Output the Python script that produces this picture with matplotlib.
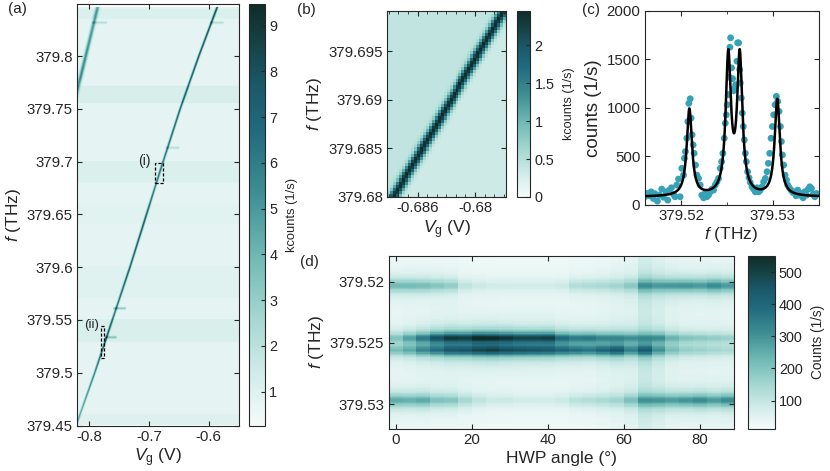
import numpy as np
import matplotlib.pyplot as plt
from matplotlib.colors import LinearSegmentedColormap
from matplotlib.patches import Rectangle
from matplotlib.ticker import FixedLocator

# ------------------------------------------------------------
# Daten
# ------------------------------------------------------------
# (a) Hintergrund-Streifen und Linien
bg_a = 0.75
band_lo = [379.450, 379.528, 379.570, 379.640, 379.680, 379.755, 379.835]
band_hi = [379.460, 379.550, 379.600, 379.660, 379.700, 379.772, 379.845]
band_lev = [1.00, 1.15, 0.95, 0.90, 1.10, 1.20, 1.10]

line_f = [379.450, 379.500, 379.600, 379.690, 379.750, 379.800, 379.850]
line_v = [-0.8210, -0.7900, -0.7315, -0.6820, -0.6480, -0.6170, -0.5840]
amp_f = [379.45, 379.50, 379.53, 379.56, 379.60, 379.64, 379.68, 379.72, 379.76, 379.80, 379.85]
amp_v = [3.5, 5.5, 7.5, 6.0, 7.0, 7.5, 5.5, 6.5, 7.0, 7.5, 8.0]

sec_f = [379.755, 379.780, 379.850]
sec_v = [-0.8250, -0.8140, -0.7840]
sec_amp = [3.0, 5.0, 4.0]

blip_f = [379.5604, 379.5329, 379.7128, 379.8316, 379.8316]
blip_v0 = [-0.7597, -0.7736, -0.6720, -0.5987, -0.7950]
blip_v1 = [-0.7386, -0.7538, -0.6496, -0.5760, -0.7700]
blip_amp = [2.5, 2.5, 1.5, 1.5, 1.5]

# (b) Ausschnitt (i)
b_vlim = [-0.68918, -0.67676]
b_flim = [379.6800, 379.6991]
b_line_v = [-0.6885, -0.67705]
b_line_f = [379.6800, 379.6990]
b_amp = 2.1
b_bg_left = 0.42
b_bg_right = 0.32

# (c) Spektrum (ii)
c_f = [379.51606, 379.51624, 379.51650, 379.51672, 379.51697, 379.51715, 379.51741, 379.51763,
       379.51788, 379.51807, 379.51836, 379.51854, 379.51872, 379.51894, 379.51916, 379.51934,
       379.51953, 379.51971, 379.51989, 379.52007, 379.52026, 379.52036, 379.52047, 379.52062,
       379.52073, 379.52084, 379.52099, 379.52109, 379.52120, 379.52131, 379.52142, 379.52157,
       379.52172, 379.52190, 379.52208, 379.52226, 379.52245, 379.52263, 379.52281, 379.52299,
       379.52318, 379.52336, 379.52354, 379.52372, 379.52391, 379.52409, 379.52427, 379.52442,
       379.52456, 379.52471, 379.52482, 379.52493, 379.52504, 379.52515, 379.52526, 379.52533,
       379.52540, 379.52551, 379.52562, 379.52573, 379.52584, 379.52595, 379.52609, 379.52617,
       379.52628, 379.52639, 379.52646, 379.52657, 379.52668, 379.52679, 379.52690, 379.52701,
       379.52712, 379.52726, 379.52741, 379.52755, 379.52774, 379.52792, 379.52810, 379.52828,
       379.52847, 379.52865, 379.52883, 379.52901, 379.52920, 379.52938, 379.52953, 379.52967,
       379.52982, 379.52996, 379.53011, 379.53026, 379.53040, 379.53055, 379.53069, 379.53084,
       379.53095, 379.53106, 379.53120, 379.53135, 379.53150, 379.53164, 379.53182, 379.53201,
       379.53219, 379.53237, 379.53255, 379.53274, 379.53292, 379.53310, 379.53332, 379.53350,
       379.53369, 379.53387, 379.53405, 379.53423, 379.53442, 379.53460, 379.53478]
c_counts = [80, 114, 90, 131, 62, 111, 35, 97,
            159, 76, 131, 45, 149, 173, 104, 80,
            201, 263, 80, 374, 304, 478, 547, 685,
            858, 1045, 1093, 893, 720, 616, 529, 408,
            304, 270, 201, 97, 69, 114, 80, 97,
            131, 159, 149, 201, 235, 270, 374, 443,
            529, 685, 841, 927, 1031, 1135, 1315, 1626,
            1723, 1412, 1301, 1176, 1204, 1239, 1481, 1671,
            1671, 1394, 1256, 1100, 945, 806, 668, 529,
            443, 339, 277, 228, 183, 159, 131, 173,
            131, 149, 183, 235, 270, 339, 426, 529,
            685, 806, 927, 1031, 1118, 1066, 962, 806,
            651, 512, 408, 304, 253, 201, 173, 149,
            125, 131, 90, 149, 97, 114, 69, 131,
            97, 159, 183, 166, 104, 80, 114]

fit_c = [379.52090, 379.52515, 379.52640, 379.53050]
fit_a = [900, 1420, 1420, 1000]
fit_w = 0.00034
fit_base = 78

# (d) HWP-Winkelabhaengigkeit
hwp = np.arange(25) * 3.64
d_f0 = [379.5203, 379.5246, 379.5256, 379.5297]
d_w = [0.00050, 0.00042, 0.00042, 0.00050]
d_top = [200, 200, 190, 170, 150, 80, 60, 50, 50, 50, 50, 50, 60,
         100, 110, 110, 120, 150, 250, 240, 260, 270, 260, 290, 260]
d_up = [150, 220, 290, 390, 440, 430, 480, 470, 450, 420, 420, 430, 320,
        280, 290, 250, 240, 230, 210, 230, 180, 150, 140, 130, 120]
d_low = [170, 200, 260, 300, 360, 370, 400, 420, 390, 380, 370, 360, 340,
         320, 300, 340, 380, 270, 340, 220, 150, 120, 110, 100, 90]
d_bot = [230, 220, 230, 180, 170, 120, 80, 60, 60, 50, 50, 50, 60,
         90, 100, 110, 120, 170, 240, 250, 250, 270, 290, 260, 290]
d_bg = [20, 20, 20, 20, 20, 20, 20, 20, 20, 20, 20, 20, 20,
        20, 20, 25, 30, 35, 60, 45, 30, 25, 25, 25, 25]

# ------------------------------------------------------------
# Stil
# ------------------------------------------------------------
dark = '#262626'
plt.rcParams['font.family'] = ['Liberation Sans', 'DejaVu Sans']
plt.rcParams['mathtext.fontset'] = 'custom'
plt.rcParams['mathtext.rm'] = 'Liberation Sans'
plt.rcParams['mathtext.it'] = 'Liberation Sans:italic'
plt.rcParams['axes.edgecolor'] = dark
plt.rcParams['axes.linewidth'] = 0.8
plt.rcParams['text.color'] = dark
plt.rcParams['axes.labelcolor'] = dark
plt.rcParams['xtick.color'] = dark
plt.rcParams['ytick.color'] = dark
plt.rcParams['xtick.direction'] = 'in'
plt.rcParams['ytick.direction'] = 'in'
plt.rcParams['xtick.labelsize'] = 10.8
plt.rcParams['ytick.labelsize'] = 10.8
plt.rcParams['xtick.major.size'] = 3.5
plt.rcParams['ytick.major.size'] = 3.5
plt.rcParams['xtick.minor.size'] = 2.5
plt.rcParams['ytick.minor.size'] = 2.5

cmap = LinearSegmentedColormap.from_list('teal', [
    (0.00, '#f4fbfa'), (0.10, '#d8efec'), (0.25, '#a6d8d2'), (0.40, '#70b9b4'),
    (0.55, '#3e8f94'), (0.70, '#216a7e'), (0.80, '#1b5a6c'), (0.90, '#164448'),
    (1.00, '#0f2c28')])
cmap.set_under('white')

W, H = 830, 471
fig = plt.figure(figsize=(W / 100, H / 100), dpi=100)


def box(l, r, t, b):
    return [l / W, 1 - b / H, (r - l) / W, (b - t) / H]


def style(ax):
    ax.tick_params(which='both', top=True, right=True, direction='in', pad=3)


def cbar(im, rect, label, ticks, lsize):
    cax = fig.add_axes(rect)
    cb = fig.colorbar(im, cax=cax, ticks=ticks)
    cb.outline.set_edgecolor(dark)
    cb.outline.set_linewidth(0.8)
    cax.tick_params(direction='in', length=3, labelsize=10.4, color=dark, pad=3)
    cb.set_label(label, fontsize=lsize, labelpad=6)
    return cb


lab = 12.5

# ------------------------------------------------------------
# (a)
# ------------------------------------------------------------
axa = fig.add_axes(box(77, 238.5, 4, 425.5))
va = np.linspace(-0.8198, -0.5504, 600)
fa = np.linspace(379.45, 379.846, 500)
V, F = np.meshgrid(va, fa)
img = np.full(F.shape, bg_a)
for lo, hi, lev in zip(band_lo, band_hi, band_lev):
    img[(F >= lo) & (F < hi)] = lev
vc = np.interp(fa, line_f, line_v)[:, None]
am = np.interp(fa, amp_f, amp_v)[:, None]
img += am * np.exp(-(V - vc) ** 2 / (2 * 0.0012 ** 2))
sc = np.interp(fa, sec_f, sec_v)[:, None]
sa = np.interp(fa, sec_f, sec_amp)[:, None] * (F >= sec_f[0])
img += sa * np.exp(-(V - sc) ** 2 / (2 * 0.0022 ** 2))
for f0, v0, v1, a in zip(blip_f, blip_v0, blip_v1, blip_amp):
    img += a * np.exp(-(F - f0) ** 2 / (2 * 0.0008 ** 2)) * ((V >= v0) & (V <= v1))
ima = axa.imshow(img, extent=[va[0], va[-1], fa[0], fa[-1]], origin='lower',
                 aspect='auto', cmap=cmap, vmin=0.26, vmax=9.47)
axa.set_xlim(-0.8198, -0.5504)
axa.set_ylim(379.45, 379.8495)
axa.set_xticks([-0.8, -0.7, -0.6])
axa.set_xticklabels(['-0.8', '-0.7', '-0.6'])
axa.set_yticks(np.arange(379.45, 379.81, 0.05))
axa.set_yticklabels(['379.45', '379.5', '379.55', '379.6', '379.65', '379.7', '379.75', '379.8'])
style(axa)
axa.set_xlabel(r'$V_\mathrm{g}$ (V)', fontsize=lab, labelpad=2)
axa.set_ylabel(r'$f$ (THz)', fontsize=lab, labelpad=3)
axa.add_patch(Rectangle((b_vlim[0], b_flim[0]), b_vlim[1] - b_vlim[0], b_flim[1] - b_flim[0],
                        fill=False, ls=(0, (2.5, 1.5)), lw=0.9, ec='k'))
axa.add_patch(Rectangle((-0.7791, 379.5137), 0.0043, 0.0304,
                        fill=False, ls=(0, (2.5, 1.5)), lw=0.9, ec='k'))
axa.text(-0.708, 379.7005, '(i)', fontsize=10, ha='center', va='center')
axa.text(-0.7962, 379.5451, '(ii)', fontsize=9.5, ha='center', va='center')
cbar(ima, box(249, 265, 4, 425.5), 'kcounts (1/s)', range(1, 10), 9.3)

# ------------------------------------------------------------
# (b)
# ------------------------------------------------------------
axb = fig.add_axes(box(387.2, 506, 11.1, 197))
vb_edges = np.linspace(b_vlim[0], b_vlim[1], 41)
fb_edges = np.linspace(b_flim[0], b_flim[1], 61)
vb = 0.5 * (vb_edges[1:] + vb_edges[:-1])
fb = 0.5 * (fb_edges[1:] + fb_edges[:-1])
VB, FB = np.meshgrid(vb, fb)
vcb = np.interp(FB, b_line_f, b_line_v)
imgb = np.where(VB < vcb, b_bg_left, b_bg_right) + b_amp * np.exp(-(VB - vcb) ** 2 / (2 * 0.00040 ** 2))
imb = axb.pcolormesh(vb_edges, fb_edges, imgb, cmap=cmap, vmin=0, vmax=2.45, shading='flat')
axb.set_xlim(b_vlim)
axb.set_ylim(b_flim)
axb.set_xticks([-0.686, -0.68])
axb.set_xticklabels(['-0.686', '-0.68'])
axb.xaxis.set_minor_locator(FixedLocator(np.arange(-0.689, -0.6765, 0.001)))
axb.set_yticks([379.68, 379.685, 379.69, 379.695])
axb.set_yticklabels(['379.68', '379.685', '379.69', '379.695'])
style(axb)
axb.set_xlabel(r'$V_\mathrm{g}$ (V)', fontsize=lab, labelpad=2)
axb.set_ylabel(r'$f$ (THz)', fontsize=lab, labelpad=3)
cbb = cbar(imb, box(517.2, 530.4, 11.1, 197), 'kcounts (1/s)', [0, 0.5, 1, 1.5, 2], 9.1)
cbb.ax.set_yticklabels(['0', '0.5', '1', '1.5', '2'])

# ------------------------------------------------------------
# (c)
# ------------------------------------------------------------
axc = fig.add_axes(box(644.5, 818.5, 11, 204.5))
axc.scatter(c_f, c_counts, s=24, color='#36a2b8', edgecolors='none', zorder=2)
ff = np.linspace(379.5160, 379.5350, 1000)
fit = np.full(ff.shape, float(fit_base))
for c0, a0 in zip(fit_c, fit_a):
    fit += a0 * fit_w ** 2 / ((ff - c0) ** 2 + fit_w ** 2)
axc.plot(ff, fit, color='k', lw=1.8, zorder=3)
axc.set_xlim(379.5160, 379.5350)
axc.set_ylim(0, 2000)
axc.set_xticks([379.52, 379.53])
axc.set_xticklabels(['379.52', '379.53'])
axc.xaxis.set_minor_locator(FixedLocator([379.525]))
axc.set_yticks([0, 500, 1000, 1500, 2000])
style(axc)
axc.set_xlabel(r'$f$ (THz)', fontsize=lab, labelpad=2)
axc.set_ylabel('counts (1/s)', fontsize=13.5, labelpad=3)

# ------------------------------------------------------------
# (d)
# ------------------------------------------------------------
axd = fig.add_axes(box(388.5, 734, 256.2, 428.5))
fd = np.linspace(379.5179, 379.5320, 140)
imgd = np.zeros((fd.size, hwp.size))
for j in range(hwp.size):
    col = np.full(fd.shape, float(d_bg[j]))
    for f0, w0, amps in zip(d_f0, d_w, [d_top, d_up, d_low, d_bot]):
        col += amps[j] * w0 ** 2 / ((fd - f0) ** 2 + w0 ** 2)
    imgd[:, j] = col
imd = axd.pcolormesh(hwp, fd, imgd, cmap=cmap, vmin=12.8, vmax=549.5, shading='nearest')
axd.set_xlim(-1.87, 89.0)
axd.set_ylim(379.5320, 379.5179)
axd.set_xticks([0, 20, 40, 60, 80])
axd.set_yticks([379.52, 379.525, 379.53])
axd.set_yticklabels(['379.52', '379.525', '379.53'])
style(axd)
axd.set_xlabel('HWP angle (°)', fontsize=lab, labelpad=3)
axd.set_ylabel(r'$f$ (THz)', fontsize=lab, labelpad=3)
cbar(imd, box(748, 774.7, 256.2, 428.5), 'Counts (1/s)', [100, 200, 300, 400, 500], 9.8)

# Panel-Beschriftungen
for x, y, t in [(8.4, 9.3, '(a)'), (297, 10, '(b)'), (582, 10, '(c)'), (300, 262, '(d)')]:
    fig.text(x / W, 1 - y / H, t, fontsize=11, ha='left', va='center')

fig.savefig('out.png', dpi=100)
